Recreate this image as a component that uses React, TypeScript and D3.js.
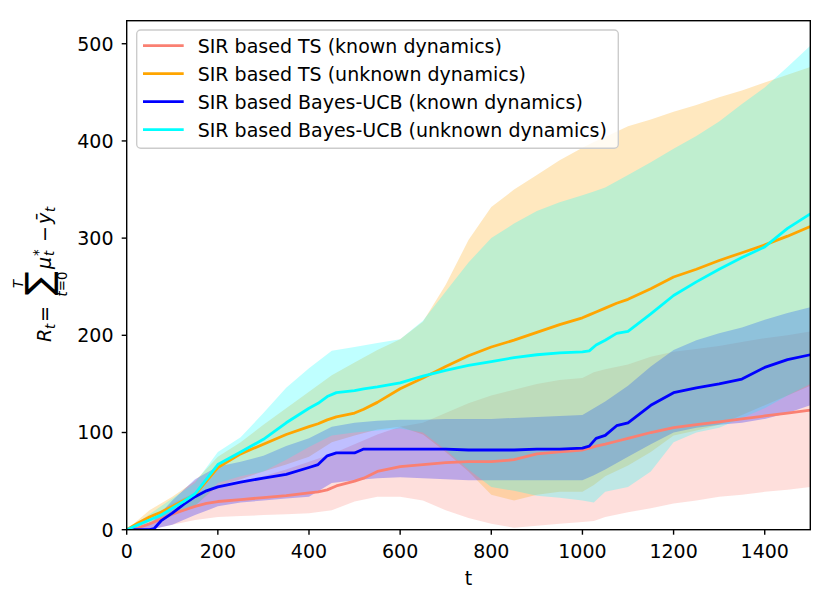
import React from 'react';
import * as d3 from 'd3';

// time grid for the mean curves
const tLine = [0, 25, 50, 60, 75, 100, 125, 150, 175, 200, 250, 300, 350, 400, 420, 440, 460, 500, 520, 550,
  600, 650, 700, 750, 800, 850, 900, 950, 1000, 1015, 1030, 1050, 1075, 1100, 1150, 1200, 1250, 1300, 1350, 1400, 1450, 1500];

const tsKnownMean = [0, 2, 6, 8, 11, 16, 20, 24, 27, 29, 31, 33, 35, 38, 39, 41, 45, 50, 53, 60,
  65, 67, 69, 70, 70, 72, 78, 80, 82, 84, 86, 88, 91, 94, 100, 105, 108, 111, 114, 117, 120, 123];
const tsUnknownMean = [0, 7, 13, 15, 18, 24, 30, 36, 50, 64, 78, 88, 98, 106, 109, 113, 116, 120, 124, 131,
  145, 156, 168, 179, 188, 195, 203, 211, 218, 221, 224, 228, 233, 237, 248, 260, 268, 277, 285, 293, 302, 312];
const ucbKnownMean = [0, 0, 0, 1, 9, 17, 26, 34, 40, 44, 49, 53, 57, 64, 67, 76, 79, 79, 83, 83,
  83, 83, 83, 82, 82, 82, 83, 83, 84, 86, 94, 97, 107, 110, 128, 141, 146, 150, 155, 167, 175, 180];
const ucbUnknownMean = [0, 5, 10, 12, 15, 22, 29, 37, 52, 67, 80, 93, 110, 125, 130, 137, 141, 143, 145, 147,
  151, 158, 164, 169, 173, 177, 180, 182, 183, 184, 190, 195, 202, 204, 222, 241, 255, 268, 280, 291, 310, 325];

// time grid for the shaded bands
const tBand = [0, 50, 100, 150, 200, 250, 300, 350, 400, 450, 500, 550, 600, 650, 700, 750, 800, 850, 900, 950,
  1000, 1025, 1050, 1100, 1150, 1200, 1250, 1300, 1350, 1400, 1450, 1500];

const tsKnownLow = [0, 0, 5, 10, 13, 14, 15, 16, 17, 20, 29, 34, 34, 30, 20, 12, 6, 2, 4, 6,
  8, 9, 13, 18, 22, 27, 30, 34, 36, 39, 41, 44];
const tsKnownHigh = [0, 12, 27, 38, 45, 50, 55, 62, 70, 78, 88, 98, 106, 110, 120, 130, 138, 144, 150, 154,
  156, 162, 165, 170, 178, 183, 186, 189, 193, 197, 200, 204];
const tsUnknownLow = [0, 8, 15, 25, 45, 52, 60, 67, 75, 90, 97, 103, 106, 98, 80, 60, 36, 30, 36, 39,
  39, 46, 55, 66, 80, 97, 102, 108, 118, 128, 138, 148];
const tsUnknownHigh = [0, 20, 34, 50, 75, 90, 108, 125, 142, 159, 172, 185, 196, 214, 252, 298, 332, 350, 365, 380,
  393, 399, 404, 415, 422, 430, 437, 445, 452, 460, 468, 476];
const ucbKnownLow = [0, 0, 5, 15, 24, 28, 30, 32, 34, 48, 51, 53, 54, 53, 52, 51, 51, 51, 51, 51,
  51, 56, 62, 75, 88, 100, 105, 108, 110, 114, 120, 128];
const ucbKnownHigh = [0, 5, 30, 52, 65, 70, 76, 86, 94, 106, 110, 112, 113, 113, 114, 114, 114, 115, 116, 117,
  118, 125, 132, 148, 168, 185, 195, 202, 208, 216, 223, 229];
const ucbUnknownLow = [0, 5, 14, 24, 48, 55, 60, 72, 85, 97, 100, 102, 104, 100, 82, 62, 44, 40, 35, 33,
  30, 28, 39, 44, 60, 90, 100, 105, 115, 125, 138, 150];
const ucbUnknownHigh = [0, 16, 32, 48, 80, 95, 120, 146, 166, 184, 188, 192, 196, 215, 245, 275, 300, 315, 328, 337,
  344, 348, 352, 365, 378, 392, 405, 420, 438, 455, 476, 498];

const labels = [
  'SIR based TS (known dynamics)',
  'SIR based TS (unknown dynamics)',
  'SIR based Bayes-UCB (known dynamics)',
  'SIR based Bayes-UCB (unknown dynamics)',
];
const colors = ['#fa8072', '#ffa500', '#0000ff', '#00ffff'];

const xTicks = [0, 200, 400, 600, 800, 1000, 1200, 1400];
const yTicks = [0, 100, 200, 300, 400, 500];

const series = [
  { mean: tsKnownMean, low: tsKnownLow, high: tsKnownHigh },
  { mean: tsUnknownMean, low: tsUnknownLow, high: tsUnknownHigh },
  { mean: ucbKnownMean, low: ucbKnownLow, high: ucbKnownHigh },
  { mean: ucbUnknownMean, low: ucbUnknownLow, high: ucbUnknownHigh },
];

const W = 831;
const H = 602;
const left = 126.7, right = 810.3, top = 20.7, bottom = 529.7;
const font = 'DejaVu Sans, sans-serif';
const fs = 19;
const fsSmall = 13.3;

export default function App() {
  const x = d3.scaleLinear().domain([0, 1500]).range([left, right]);
  const y = d3.scaleLinear().domain([0, 523.7]).range([bottom, top]);

  const area = (s: typeof series[0]) =>
    d3.area<number>()
      .x((_, i) => x(tBand[i]))
      .y0((_, i) => y(s.low[i]))
      .y1((_, i) => y(s.high[i]))(tBand) || '';

  const line = (s: typeof series[0]) =>
    d3.line<number>()
      .x((_, i) => x(tLine[i]))
      .y(d => y(d))(s.mean) || '';

  return (
    <svg width={W} height={H} style={{ position: 'absolute', left: 0, top: 0, background: '#fff' }}
      fontFamily={font}>
      <defs>
        <clipPath id="plot">
          <rect x={left} y={top} width={right - left} height={bottom - top} />
        </clipPath>
      </defs>

      <g clipPath="url(#plot)">
        {series.map((s, i) => (
          <path key={'a' + i} d={area(s)} fill={colors[i]} fillOpacity={0.25} stroke="none" />
        ))}
        {series.map((s, i) => (
          <path key={'l' + i} d={line(s)} fill="none" stroke={colors[i]} strokeWidth={2.8} strokeLinejoin="round" />
        ))}
      </g>

      {/* axes frame */}
      <rect x={left} y={top} width={right - left} height={bottom - top} fill="none" stroke="#000" strokeWidth={1.4} />

      {xTicks.map(t => (
        <g key={'x' + t}>
          <line x1={x(t)} x2={x(t)} y1={bottom} y2={bottom + 5} stroke="#000" strokeWidth={1.4} />
          <text x={x(t)} y={558} fontSize={fs} textAnchor="middle">{t}</text>
        </g>
      ))}
      {yTicks.map(v => (
        <g key={'y' + v}>
          <line x1={left - 5} x2={left} y1={y(v)} y2={y(v)} stroke="#000" strokeWidth={1.4} />
          <text x={113.5} y={y(v) + 6.9} fontSize={fs} textAnchor="end">{v}</text>
        </g>
      ))}

      <text x={(left + right) / 2} y={585} fontSize={fs} textAnchor="middle">t</text>

      {/* y label: R_t = sum_{t=0}^{T} mu_t^* - ybar_t */}
      <g transform="translate(51,343) rotate(-90)" fontSize={fs}>
        <text x={1} y={0} fontStyle="italic">R</text>
        <text x={14} y={4} fontSize={fsSmall} fontStyle="italic">t</text>
        <text x={21} y={0}>=</text>
        <text x={60} y={0} fontSize={36} textAnchor="middle">∑</text>
        <text x={59} y={-28} fontSize={fsSmall} textAnchor="middle" fontStyle="italic">T</text>
        <text x={59} y={16} fontSize={fsSmall} textAnchor="middle"><tspan fontStyle="italic">t</tspan>=0</text>
        <text x={74} y={0} fontStyle="italic">μ</text>
        <text x={87} y={-8} fontSize={fsSmall}>*</text>
        <text x={87} y={3} fontSize={fsSmall} fontStyle="italic">t</text>
        <text x={101} y={0}>−</text>
        <text x={119} y={0} fontStyle="italic">ȳ</text>
        <text x={131} y={4} fontSize={fsSmall} fontStyle="italic">t</text>
      </g>

      {/* legend */}
      <rect x={136.7} y={30} width={481.6} height={118.3} rx={4} fill="#fff" fillOpacity={0.8} stroke="#cccccc" strokeWidth={1.4} />
      {labels.map((lab, i) => {
        const ly = 45.7 + i * 28;
        return (
          <g key={'g' + i}>
            <line x1={143} x2={183.7} y1={ly} y2={ly} stroke={colors[i]} strokeWidth={2.8} />
            <text x={197.7} y={ly + 6.9} fontSize={fs}>{lab}</text>
          </g>
        );
      })}
    </svg>
  );
}
